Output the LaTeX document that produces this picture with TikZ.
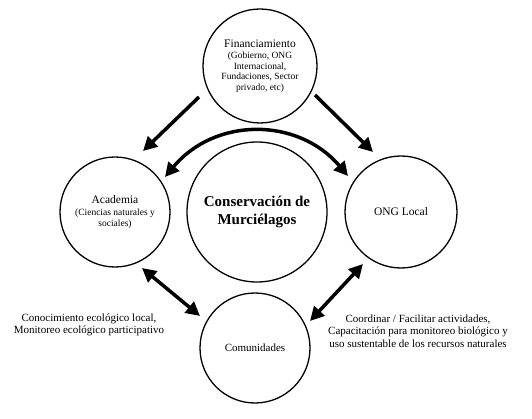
\documentclass[tikz,border=0pt]{standalone}
\usepackage{fontspec}
\setmainfont{Liberation Serif}
\usetikzlibrary{arrows.meta,calc}
\begin{document}
\begin{tikzpicture}[x=1pt,y=-1pt,
  bubble/.style={circle,draw,line width=1.3pt,inner sep=0pt,align=center,font=\fontsize{11.5}{11}\selectfont},
  flow/.style={line width=3.5pt,-{Triangle[length=14pt,width=14pt]}},
  duo/.style={line width=3.5pt,{Triangle[length=14pt,width=14pt]}-{Triangle[length=14pt,width=14pt]}},
  lbl/.style={align=center,font=\fontsize{11}{12.5}\selectfont}]
\useasboundingbox (0,0) rectangle (532,419);
\newcommand{\subtxt}{\fontsize{9.5}{10.5}\selectfont}
\node[bubble,minimum size=114pt,font=\fontsize{11.5}{10.5}\selectfont] (fin) at (260,66)
  {Financiamiento\\[1pt]{\subtxt (Gobierno, ONG}\\{\subtxt Internacional,}\\{\subtxt Fundaciones, Sector}\\{\subtxt privado, etc)}};
\node[bubble,minimum size=110pt] (aca) at (115,212)
  {Academia\\[1pt]{\subtxt (Ciencias naturales y}\\{\subtxt sociales)}};
\node[bubble,minimum size=140pt,font=\bfseries\fontsize{15}{18}\selectfont] (cen) at (257,212)
  {Conservación de\\Murciélagos};
\node[bubble,minimum size=112pt] (ong) at (401,212) {ONG Local};
\node[bubble,minimum size=110pt,font=\fontsize{11}{12}\selectfont] (com) at (255,348) {Comunidades};
\node[lbl] (lt) at (89,325) {Conocimiento ecológico local,\\Monitoreo ecológico participativo};
\node[lbl] (rt) at (418,331) {Coordinar / Facilitar actividades,\\Capacitación para monitoreo biológico y\\uso sustentable de los recursos naturales};
\coordinate (f1s) at ($(fin.center)+(-61,31)$);
\coordinate (f2s) at ($(fin.center)+(55,29)$);
\coordinate (f1e) at ($(aca.center)+(28,-61)$);
\coordinate (f2e) at ($(ong.center)+(-28,-60)$);
\coordinate (as) at ($(aca.center)+(50,-35)$);
\coordinate (ae) at ($(ong.center)+(-53,-36)$);
\coordinate (c1) at ($(cen.center)+(-42,-95)$);
\coordinate (c2) at ($(cen.center)+(41,-95)$);
\coordinate (b1s) at ($(aca.center)+(27,56)$);
\coordinate (b1e) at ($(com.center)+(-55,-32)$);
\coordinate (b2s) at ($(ong.center)+(-38,52)$);
\coordinate (b2e) at ($(com.center)+(55,-27)$);
\draw[flow] (f1s) -- (f1e);
\draw[flow] (f2s) -- (f2e);
\draw[duo] (as) .. controls (c1) and (c2) .. (ae);
\draw[duo] (b1s) -- (b1e);
\draw[duo] (b2s) -- (b2e);
\end{tikzpicture}
\end{document}
